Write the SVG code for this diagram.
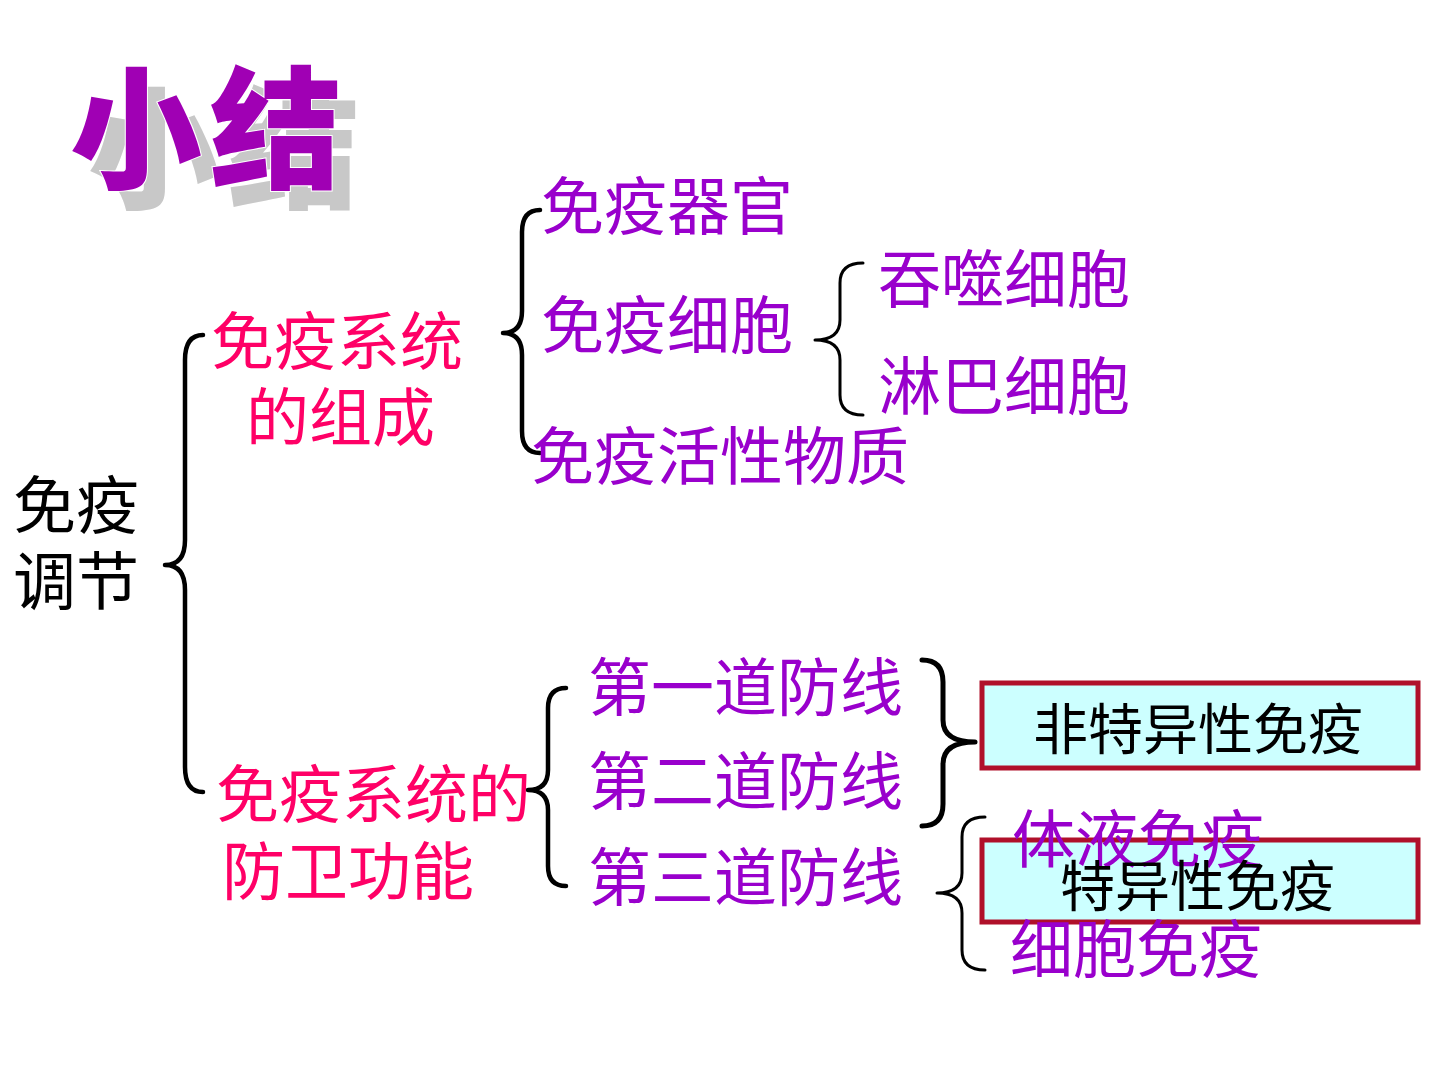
<svg xmlns="http://www.w3.org/2000/svg" width="1440" height="1080" viewBox="0 0 1440 1080">
<style>
text{font-family:"Noto Sans CJK SC","Noto Sans CJK TC",sans-serif;}
.t{font-size:63px;}
.pur{fill:#9900CC;}
.pink{fill:#FF0066;}
.blk{fill:#000000;}
.box{fill:#CCFFFF;stroke:#B0102A;stroke-width:5;}
.br{fill:none;stroke:#000;stroke-width:4.5;stroke-linecap:round;stroke-linejoin:round;}
.brt{fill:none;stroke:#000;stroke-width:3;stroke-linecap:round;stroke-linejoin:round;}
.title{font-size:132px;font-weight:900;letter-spacing:8px;}
</style>
<rect width="1440" height="1080" fill="#FFFFFF"/>
<g id="title">
<text class="title" x="88" y="198" fill="#C8C8C8">小结</text>
<text class="title" x="70" y="178" fill="#A000B4" stroke="#FFFFFF" stroke-width="2" paint-order="stroke">小结</text>
</g>
<g id="connectors">
<path class="br" d="M203 335 Q185 335 185 360 L185 540 Q185 565 165 565 Q185 565 185 590 L185 767 Q185 792 203 792"/>
<path class="br" d="M540 210 Q522 210 522 232 L522 311 Q522 333 503 333 Q522 333 522 355 L522 431 Q522 453 540 453"/>
<path class="brt" d="M863 263 Q840 263 840 283 L840 320 Q840 340 815 340 Q840 340 840 360 L840 395 Q840 415 863 415"/>
<path class="br" d="M566 688 Q548 688 548 708 L548 770 Q548 790 528 790 Q548 790 548 810 L548 866 Q548 886 566 886"/>
<path class="br" style="stroke-width:5" d="M922 660 Q943 660 943 682 L943 720 Q943 742 975 742 Q943 742 943 764 L943 804 Q943 826 922 826"/>
<path class="brt" d="M985 817 Q962 817 962 837 L962 873 Q962 893 937 893 Q962 893 962 913 L962 950 Q962 970 985 970"/>
</g>
<g id="root"><text class="t blk" x="13" y="528">免疫</text><text class="t blk" x="13" y="604">调节</text></g>
<g id="composition"><text class="t pink" x="211" y="364">免疫系统</text><text class="t pink" x="246" y="440">的组成</text></g>
<g id="organs"><text class="t pur" x="541" y="229">免疫器官</text></g>
<g id="cells"><text class="t pur" x="541" y="348">免疫细胞</text></g>
<g id="substances"><text class="t pur" x="531" y="479">免疫活性物质</text></g>
<g id="phagocyte"><text class="t pur" x="878" y="302">吞噬细胞</text></g>
<g id="lymphocyte"><text class="t pur" x="878" y="409">淋巴细胞</text></g>
<g id="defense"><text class="t pink" x="216" y="817">免疫系统的</text><text class="t pink" x="222" y="894">防卫功能</text></g>
<g id="line1"><text class="t pur" x="588" y="710">第一道防线</text></g>
<g id="line2"><text class="t pur" x="588" y="804">第二道防线</text></g>
<g id="line3"><text class="t pur" x="588" y="900">第三道防线</text></g>
<g id="nonspecific"><rect class="box" x="982" y="683" width="436" height="85"/><text class="blk" style="font-size:55px" x="1033" y="749">非特异性免疫</text></g>
<g id="specific"><rect class="box" x="982" y="840" width="436" height="82"/></g>
<g id="humoral"><text class="t pur" x="1012" y="862">体液免疫</text></g>
<g id="cellular"><text class="t pur" x="1010" y="972">细胞免疫</text></g>
<g id="specific-label"><text class="blk" style="font-size:55px" x="1060" y="906">特异性免疫</text></g>
</svg>
